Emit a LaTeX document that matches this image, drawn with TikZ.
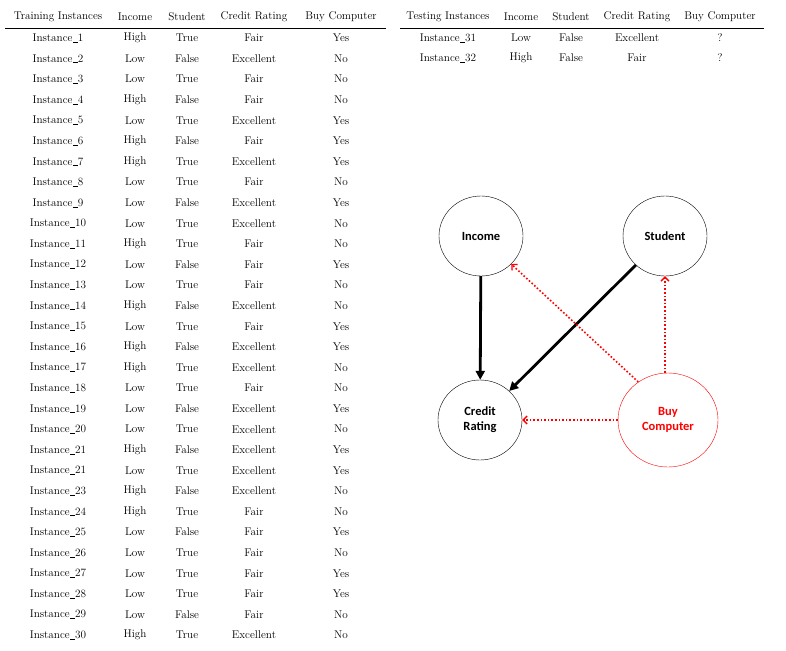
\documentclass[tikz,border=0pt]{standalone}
\usepackage{fontspec}
\newfontfamily\carl{Carlito}
\usetikzlibrary{arrows.meta,shapes.geometric}
\newcommand{\us}{\kern0.03em\rule[-0.15ex]{0.42em}{0.4pt}\kern0.03em}
\begin{document}
\begin{tikzpicture}[x=1pt,y=-1pt,
  cell/.style={font=\fontsize{11.2}{13}\selectfont, inner sep=0pt},
  bnode/.style={ellipse, draw, thin, font=\carl\bfseries\fontsize{12.5}{15}\selectfont, align=center, inner sep=0pt},
  solidarr/.style={line width=2.8pt, -{Triangle[length=9pt,width=9pt]}},
  dotarr/.style={red, line width=1.6pt, dotted, -{Straight Barb[length=4pt,width=8pt,line width=1.3pt]}}]
\useasboundingbox (0,0) rectangle (786,650);
% training table
\foreach \h/\x in {Training Instances/58, Income/135, Student/187, Credit Rating/254, Buy Computer/341}
  \node[cell] at (\x,17) {\h};
\draw[line width=0.5pt] (5,28) -- (386,28);
\foreach [count=\i from 0] \n/\a/\b/\c/\d in {
1/High/True/Fair/Yes,
2/Low/False/Excellent/No,
3/Low/True/Fair/No,
4/High/False/Fair/No,
5/Low/True/Excellent/Yes,
6/High/False/Fair/Yes,
7/High/True/Excellent/Yes,
8/Low/True/Fair/No,
9/Low/False/Excellent/Yes,
10/Low/True/Excellent/No,
11/High/True/Fair/No,
12/Low/False/Fair/Yes,
13/Low/True/Fair/No,
14/High/False/Excellent/No,
15/Low/True/Fair/Yes,
16/High/False/Excellent/Yes,
17/High/True/Excellent/No,
18/Low/True/Fair/No,
19/Low/False/Excellent/Yes,
20/Low/True/Excellent/No,
21/High/False/Excellent/Yes,
21/Low/True/Excellent/Yes,
23/High/False/Excellent/No,
24/High/True/Fair/No,
25/Low/False/Fair/Yes,
26/Low/True/Fair/No,
27/Low/True/Fair/Yes,
28/Low/True/Fair/Yes,
29/Low/False/Fair/No,
30/High/True/Excellent/No}{
  \pgfmathsetmacro{\yy}{38+\i*20.59}
  \node[cell] at (58,\yy) {Instance\us\n};
  \node[cell] at (135,\yy) {\a};
  \node[cell] at (187,\yy) {\b};
  \node[cell] at (254,\yy) {\c};
  \node[cell] at (341,\yy) {\d};
}
% testing table
\foreach \h/\x in {Testing Instances/448, Income/521, Student/571, Credit Rating/637, Buy Computer/720}
  \node[cell] at (\x,17) {\h};
\draw[line width=0.5pt] (400,28) -- (764,28);
\foreach \n/\a/\b/\c/\yy in {31/Low/False/Excellent/38, 32/High/False/Fair/58}{
  \node[cell] at (448,\yy) {Instance\us\n};
  \node[cell] at (521,\yy) {\a};
  \node[cell] at (571,\yy) {\b};
  \node[cell] at (637,\yy) {\c};
  \node[cell] at (720,\yy) {?};
}
% network
\node[bnode, minimum width=84pt, minimum height=80pt] (inc) at (481,236) {Income};
\node[bnode, minimum width=84pt, minimum height=80pt] (stu) at (665,236) {Student};
\node[bnode, minimum width=84pt, minimum height=80pt] (cr) at (480,420) {Credit\\Rating};
\node[bnode, red, minimum width=100pt, minimum height=94pt] (buy) at (668,420) {Buy\\Computer};
\draw[solidarr] (inc) -- (cr);
\draw[solidarr] (stu) -- (cr);
\draw[dotarr] (buy) -- (cr);
\draw[dotarr] (buy.north -| stu) -- (stu);
\draw[dotarr] (buy.128) -- (inc);
\end{tikzpicture}
\end{document}
